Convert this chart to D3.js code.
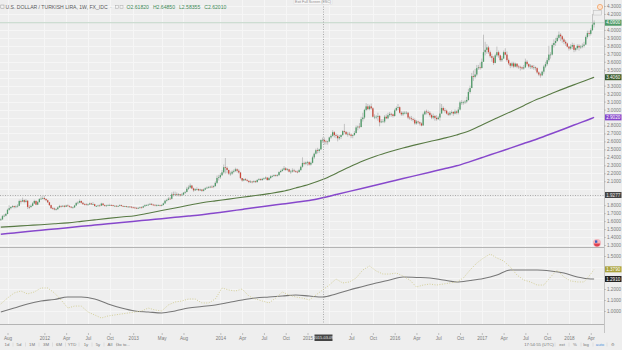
<!DOCTYPE html>
<html>
<head>
<meta charset="utf-8">
<script src="https://cdn.jsdelivr.net/npm/d3@7"></script>
<style>
  html, body { margin: 0; padding: 0; background: #eeeeee; }
  svg { display: block; font-family: "Liberation Sans", Arial, sans-serif; }
</style>
</head>
<body>
<svg id="chart" width="622" height="350"></svg>
<script>
// ---- USD/TRY weekly bars (FX_IDC), first bar = week of 2011-07-04 ----
const firstWeek = "2011-07-04";
const firstOpen = 1.612; // each later bar opens at the prior week's close

const closes = [
  // 2011
  1.622,1.662,1.668,1.690,1.742,1.762,1.778,1.788,1.776,1.784,1.792,1.852,1.846,1.862,1.842,1.856,1.778,1.776,1.792,1.822,1.852,1.806,1.838,1.876,1.882,1.890,
  // 2012
  1.878,1.862,1.836,1.800,1.762,1.758,1.746,1.750,1.772,1.790,1.784,1.792,1.780,1.796,1.790,1.780,1.770,1.772,1.796,1.826,1.832,1.852,1.830,1.812,1.810,1.806,1.810,1.822,1.810,1.812,1.790,1.790,1.796,1.794,1.820,1.800,1.790,1.796,1.800,1.802,1.800,1.790,1.792,1.786,1.790,1.800,1.790,1.786,1.786,1.780,1.782,1.780,1.772,
  // 2013
  1.770,1.766,1.760,1.766,1.772,1.770,1.786,1.800,1.800,1.806,1.816,1.806,1.804,1.796,1.800,1.800,1.794,1.802,1.822,1.856,1.866,1.882,1.880,1.936,1.930,1.936,1.930,1.936,1.924,1.932,1.956,1.966,2.006,2.022,2.046,2.010,1.986,2.000,2.002,1.986,1.996,1.980,1.996,2.012,2.020,2.026,2.032,2.030,2.040,2.080,2.142,2.150,
  // 2014
  2.176,2.212,2.276,2.268,2.242,2.196,2.196,2.220,2.230,2.250,2.232,2.210,2.140,2.110,2.126,2.116,2.106,2.090,2.096,2.090,2.100,2.090,2.116,2.126,2.116,2.130,2.136,2.146,2.116,2.140,2.162,2.166,2.176,2.170,2.176,2.216,2.230,2.246,2.262,2.242,2.250,2.220,2.222,2.236,2.226,2.220,2.216,2.240,2.282,2.330,2.320,2.336,
  // 2015
  2.340,2.310,2.332,2.400,2.446,2.490,2.480,2.500,2.6182,2.6201,2.600,2.594,2.600,2.650,2.670,2.716,2.680,2.670,2.640,2.656,2.680,2.730,2.720,2.690,2.696,2.686,2.670,2.680,2.706,2.776,2.786,2.780,2.880,2.900,2.996,3.040,3.006,3.040,3.016,2.910,2.910,2.910,2.920,2.840,2.850,2.850,2.910,2.890,2.930,2.946,2.940,2.920,
  // 2016
  2.990,3.020,3.030,2.960,2.940,2.960,2.960,2.960,2.900,2.890,2.880,2.870,2.826,2.850,2.840,2.826,2.800,2.940,2.976,2.970,2.960,2.930,2.900,2.920,2.896,2.880,2.900,2.950,3.020,2.990,2.986,2.950,2.936,2.960,2.970,2.950,2.976,2.960,3.000,3.090,3.090,3.090,3.100,3.120,3.220,3.270,3.420,3.410,3.440,3.520,3.530,3.520,
  // 2017
  3.600,3.720,3.750,3.780,3.720,3.670,3.650,3.586,3.680,3.720,3.680,3.620,3.640,3.720,3.690,3.620,3.580,3.550,3.580,3.540,3.576,3.540,3.536,3.530,3.516,3.530,3.600,3.570,3.540,3.550,3.530,3.530,3.520,3.466,3.440,3.430,3.476,3.540,3.570,3.620,3.690,3.690,3.810,3.836,3.860,3.900,3.940,3.920,3.880,3.850,3.830,3.790,
  // 2018
  3.766,3.790,3.810,3.750,3.770,3.800,3.780,3.790,3.800,3.816,3.910,3.960,3.950,3.996,4.066,4.090
];

const highs = [
  1.636,1.676,1.690,1.702,1.755,1.798,1.784,1.800,1.795,1.800,1.812,1.870,1.870,1.895,1.872,1.878,1.862,1.800,1.808,1.838,1.868,1.862,1.852,1.890,1.910,1.912,
  1.920,1.886,1.868,1.842,1.806,1.775,1.770,1.762,1.782,1.804,1.800,1.802,1.800,1.806,1.810,1.798,1.788,1.782,1.804,1.840,1.848,1.872,1.860,1.840,1.824,1.826,1.820,1.832,1.830,1.838,1.818,1.800,1.806,1.808,1.830,1.828,1.808,1.806,1.812,1.818,1.810,1.804,1.800,1.800,1.800,1.810,1.806,1.796,1.794,1.792,1.790,1.790,1.788,
  1.782,1.780,1.774,1.776,1.782,1.784,1.796,1.810,1.812,1.818,1.828,1.826,1.816,1.812,1.812,1.810,1.806,1.812,1.832,1.866,1.880,1.900,1.904,1.960,1.970,1.970,1.960,1.950,1.940,1.950,1.966,1.978,2.030,2.048,2.072,2.054,2.020,2.012,2.024,2.010,2.006,2.000,2.008,2.024,2.034,2.040,2.044,2.050,2.052,2.100,2.172,2.180,
  2.200,2.240,2.310,2.392,2.286,2.246,2.222,2.236,2.248,2.270,2.262,2.250,2.218,2.142,2.136,2.140,2.130,2.110,2.112,2.104,2.112,2.110,2.126,2.140,2.136,2.142,2.148,2.160,2.150,2.154,2.176,2.180,2.186,2.186,2.190,2.226,2.246,2.262,2.290,2.278,2.266,2.256,2.242,2.262,2.256,2.238,2.236,2.256,2.296,2.400,2.346,2.348,
  2.356,2.352,2.346,2.420,2.460,2.510,2.520,2.510,2.626,2.6485,2.650,2.620,2.610,2.660,2.690,2.740,2.730,2.700,2.690,2.680,2.690,2.740,2.820,2.730,2.720,2.720,2.700,2.690,2.730,2.800,2.800,2.830,2.910,2.960,3.010,3.080,3.070,3.060,3.076,3.030,2.940,2.930,2.960,2.930,2.880,2.880,2.930,2.940,2.960,2.970,2.960,2.950,
  3.010,3.040,3.070,3.040,2.980,2.980,2.980,2.980,2.970,2.920,2.920,2.900,2.890,2.870,2.860,2.850,2.840,2.960,2.990,3.000,2.990,2.980,2.950,2.950,2.930,2.930,2.920,3.080,3.070,3.040,3.020,3.000,2.970,2.980,2.990,2.980,3.000,2.990,3.030,3.110,3.120,3.110,3.120,3.160,3.260,3.300,3.460,3.490,3.510,3.560,3.560,3.590,
  3.640,3.940,3.850,3.820,3.800,3.740,3.700,3.670,3.700,3.790,3.740,3.690,3.670,3.740,3.770,3.730,3.640,3.590,3.600,3.600,3.590,3.580,3.560,3.550,3.540,3.560,3.640,3.620,3.580,3.570,3.560,3.560,3.540,3.530,3.480,3.460,3.490,3.560,3.600,3.650,3.800,3.720,3.830,3.880,3.900,3.930,3.980,3.960,3.930,3.900,3.870,3.840,
  3.800,3.820,3.840,3.830,3.780,3.820,3.820,3.810,3.830,3.850,3.930,3.990,3.990,4.020,4.200,4.120
];

const lows = [
  1.603,1.615,1.650,1.660,1.684,1.730,1.748,1.766,1.760,1.762,1.770,1.788,1.820,1.838,1.825,1.832,1.752,1.750,1.768,1.786,1.815,1.798,1.800,1.832,1.866,1.872,
  1.862,1.850,1.828,1.792,1.752,1.745,1.735,1.732,1.742,1.768,1.770,1.776,1.772,1.776,1.782,1.770,1.762,1.758,1.768,1.792,1.812,1.826,1.820,1.806,1.796,1.796,1.790,1.802,1.802,1.800,1.782,1.778,1.782,1.784,1.790,1.792,1.782,1.782,1.790,1.792,1.790,1.784,1.782,1.778,1.778,1.784,1.782,1.778,1.776,1.772,1.770,1.772,1.762,
  1.760,1.756,1.752,1.752,1.758,1.760,1.764,1.780,1.790,1.794,1.800,1.798,1.794,1.786,1.784,1.790,1.786,1.786,1.796,1.816,1.844,1.860,1.866,1.872,1.910,1.920,1.912,1.912,1.910,1.918,1.928,1.940,1.960,1.992,2.010,2.000,1.968,1.978,1.984,1.976,1.978,1.968,1.972,1.990,2.004,2.010,2.014,2.018,2.014,2.030,2.066,2.110,
  2.130,2.166,2.196,2.196,2.200,2.180,2.168,2.180,2.200,2.216,2.210,2.196,2.126,2.096,2.100,2.104,2.094,2.076,2.080,2.074,2.080,2.078,2.082,2.106,2.106,2.104,2.118,2.126,2.106,2.108,2.132,2.150,2.156,2.158,2.158,2.170,2.204,2.222,2.236,2.230,2.226,2.212,2.194,2.210,2.214,2.206,2.200,2.208,2.232,2.270,2.300,2.300,
  2.296,2.296,2.296,2.324,2.380,2.436,2.450,2.456,2.496,2.58355,2.560,2.560,2.560,2.590,2.632,2.660,2.650,2.640,2.600,2.620,2.630,2.670,2.700,2.680,2.660,2.670,2.640,2.640,2.670,2.700,2.740,2.760,2.780,2.850,2.880,2.980,2.990,2.990,3.000,2.900,2.880,2.880,2.860,2.790,2.830,2.840,2.830,2.880,2.880,2.910,2.910,2.900,
  2.910,2.980,2.990,2.950,2.920,2.920,2.940,2.940,2.880,2.870,2.860,2.850,2.810,2.810,2.820,2.800,2.790,2.800,2.930,2.940,2.940,2.910,2.880,2.880,2.860,2.860,2.870,2.860,2.950,2.980,2.960,2.940,2.920,2.920,2.940,2.920,2.940,2.940,2.940,2.990,3.060,3.060,3.070,3.080,3.110,3.200,3.270,3.360,3.390,3.420,3.500,3.500,
  3.520,3.600,3.680,3.700,3.700,3.650,3.600,3.560,3.580,3.660,3.650,3.600,3.600,3.640,3.680,3.600,3.560,3.520,3.530,3.520,3.530,3.520,3.510,3.490,3.500,3.500,3.520,3.550,3.520,3.510,3.510,3.500,3.490,3.450,3.420,3.400,3.420,3.450,3.520,3.550,3.600,3.640,3.680,3.780,3.800,3.850,3.880,3.860,3.840,3.820,3.800,3.780,
  3.740,3.750,3.760,3.720,3.730,3.750,3.740,3.760,3.770,3.780,3.810,3.890,3.920,3.930,3.990,4.030
];

// Moving averages, one value every 8 weeks from the first bar, plus the latest bar
const maEvery = 8;
const sma100 = [1.524,1.534,1.545,1.555,1.566,1.578,1.596,1.615,1.634,1.652,1.668,1.699,1.732,1.765,1.798,1.830,1.854,1.876,1.900,1.921,1.945,1.973,2.016,2.063,2.122,2.198,2.279,2.354,2.417,2.470,2.518,2.560,2.599,2.638,2.681,2.736,2.816,2.894,2.971,3.049,3.128,3.195,3.263,3.327,3.390];
const sma100Latest = 3.406;
const sma200 = [1.436,1.452,1.468,1.485,1.501,1.517,1.534,1.550,1.566,1.583,1.599,1.615,1.631,1.647,1.663,1.680,1.702,1.724,1.747,1.770,1.792,1.814,1.836,1.859,1.893,1.933,1.973,2.013,2.053,2.093,2.134,2.174,2.214,2.254,2.294,2.347,2.403,2.460,2.516,2.573,2.631,2.693,2.757,2.821,2.885];
const sma200Latest = 2.902;

// Lower pane: ratio (dotted, one value every 4 weeks) and its average (every 8 weeks)
const ratioEvery = 4;
const ratio = [1.064,1.118,1.164,1.182,1.155,1.173,1.209,1.209,1.164,1.100,1.027,1.045,1.045,0.991,0.964,0.936,0.955,0.964,0.973,0.982,0.991,1.000,1.027,1.009,1.000,1.055,1.082,1.091,1.109,1.109,1.073,1.073,1.109,1.209,1.191,1.182,1.200,1.136,1.109,1.091,1.073,1.118,1.173,1.145,1.127,1.118,1.100,1.145,1.191,1.236,1.291,1.255,1.264,1.300,1.373,1.409,1.364,1.336,1.336,1.345,1.318,1.282,1.218,1.236,1.245,1.236,1.245,1.255,1.264,1.300,1.373,1.436,1.482,1.518,1.482,1.455,1.400,1.327,1.282,1.264,1.236,1.236,1.309,1.373,1.309,1.273,1.264,1.264,1.336];
const ratioLatest = 1.379;
const ratioAvg = [0.991,1.027,1.064,1.091,1.105,1.127,1.127,1.109,1.064,1.027,1.000,0.991,0.982,1.000,1.027,1.041,1.055,1.077,1.100,1.118,1.127,1.136,1.145,1.136,1.127,1.155,1.191,1.223,1.255,1.282,1.309,1.305,1.300,1.282,1.264,1.277,1.295,1.327,1.373,1.373,1.373,1.364,1.345,1.309,1.291];
const ratioAvgLatest = 1.291;

// Axis ticks
const priceTicks = [1.3,1.4,1.5,1.6,1.7,1.8,1.9,2.0,2.1,2.2,2.3,2.4,2.5,2.6,2.7,2.8,2.9,3.0,3.1,3.2,3.3,3.4,3.5,3.6,3.7,3.8,3.9,4.0,4.1,4.2,4.3];
const ratioTicks = [1.0,1.1,1.2,1.3,1.4,1.5];
const timeTicks = ["2011-08-01","2012-01-02","2012-04-02","2012-07-02","2012-10-01","2013-01-07","2013-05-06","2013-08-05",
  "2014-01-06","2014-04-07","2014-07-07","2014-10-06","2015-01-05","2015-04-06","2015-07-06","2015-10-05",
  "2016-01-04","2016-04-04","2016-07-04","2016-10-03","2017-01-02","2017-04-03","2017-07-03","2017-10-02","2018-01-01","2018-04-02"];

// Crosshair state
const cursorWeek = "2015-03-09";
const cursorPrice = 1.9277;

const rangeButtons = ["1d","5d","1M","3M","6M","YTD","1y","5y","All","Go to..."];

// ---------------------------------------------------------------
const W = 622, H = 350;
const axisLeft = 604;
const mainBottom = 247, lowBottom = 324;
const svg = d3.select("#chart");
const fmt4 = d3.format(".4f"), fmt5 = d3.format(".5f");
const monthFmt = d3.utcFormat("%b");

const t0 = new Date(firstWeek + "T00:00:00Z");
const weekIndex = s => Math.round((new Date(s + "T00:00:00Z") - t0) / (7 * 864e5));

const bars = closes.map((c, i) => ({
  i, date: d3.utcDay.offset(t0, 7 * i),
  o: i ? closes[i - 1] : firstOpen, h: highs[i], l: lows[i], c
}));
const last = bars[bars.length - 1];

const x = d3.scaleLinear().domain([0, bars.length - 1]).range([0.8, 594.1]);
const y = d3.scaleLinear().domain([1.3, 4.3]).range([245, 6]);
const yr = d3.scaleLinear().domain([1.0, 1.5]).range([311, 256]);

svg.append("rect").attr("width", W).attr("height", H).attr("fill", "#eeeeee");

const defs = svg.append("defs");
defs.append("clipPath").attr("id", "clipMain").append("rect").attr("x", 0).attr("y", 0).attr("width", axisLeft).attr("height", mainBottom);
defs.append("clipPath").attr("id", "clipLow").append("rect").attr("x", 0).attr("y", mainBottom).attr("width", axisLeft).attr("height", lowBottom - mainBottom);

// grid
const grid = svg.append("g").attr("stroke", "#f6f6f6").attr("stroke-width", 1);
timeTicks.forEach(t => {
  const xx = Math.round(x(weekIndex(t))) + 0.5;
  grid.append("line").attr("x1", xx).attr("x2", xx).attr("y1", 0).attr("y2", lowBottom);
});
priceTicks.forEach(v => {
  const yy = Math.round(y(v)) + 0.5;
  grid.append("line").attr("x1", 0).attr("x2", axisLeft).attr("y1", yy).attr("y2", yy);
});
ratioTicks.forEach(v => {
  const yy = Math.round(yr(v)) + 0.5;
  grid.append("line").attr("x1", 0).attr("x2", axisLeft).attr("y1", yy).attr("y2", yy);
});

// pane borders
svg.append("line").attr("x1", 0).attr("x2", axisLeft).attr("y1", mainBottom + 0.5).attr("y2", mainBottom + 0.5).attr("stroke", "#b4b4b4");
svg.append("line").attr("x1", 0).attr("x2", axisLeft).attr("y1", lowBottom + 0.5).attr("y2", lowBottom + 0.5).attr("stroke", "#b4b4b4");
svg.append("line").attr("x1", axisLeft + 0.5).attr("x2", axisLeft + 0.5).attr("y1", 0).attr("y2", 333).attr("stroke", "#c4c4c4");

// main pane
const main = svg.append("g").attr("clip-path", "url(#clipMain)");

// last price line
main.append("line").attr("x1", 0).attr("x2", axisLeft).attr("y1", y(last.c)).attr("y2", y(last.c))
  .attr("stroke", "#c2d6c8").attr("stroke-width", 1);

// crosshair
const cx = Math.round(x(weekIndex(cursorWeek))) + 0.5;
svg.append("line").attr("x1", cx).attr("x2", cx).attr("y1", 4).attr("y2", lowBottom)
  .attr("stroke", "#9a9a9a").attr("stroke-width", 0.8).attr("stroke-dasharray", "1,1.5");
main.append("line").attr("x1", 0).attr("x2", axisLeft).attr("y1", Math.round(y(cursorPrice)) + 0.5).attr("y2", Math.round(y(cursorPrice)) + 0.5)
  .attr("stroke", "#9a9a9a").attr("stroke-width", 0.8).attr("stroke-dasharray", "1,1.5");

// moving averages
const maPoints = (arr, latest) => arr.map((v, k) => ({ i: k * maEvery, v })).concat([{ i: bars.length - 1, v: latest }]);
const maLine = d3.line().x(d => x(d.i)).y(d => y(d.v)).curve(d3.curveMonotoneX);
main.append("path").attr("d", maLine(maPoints(sma100, sma100Latest))).attr("fill", "none").attr("stroke", "#587a44").attr("stroke-width", 1.1);
main.append("path").attr("d", maLine(maPoints(sma200, sma200Latest))).attr("fill", "none").attr("stroke", "#8748cc").attr("stroke-width", 1.5);

// candles
const up = "#4f9a68", down = "#c9483a";
const cg = main.append("g");
cg.selectAll("line.wick").data(bars).join("line").attr("class", "wick")
  .attr("x1", d => x(d.i)).attr("x2", d => x(d.i)).attr("y1", d => y(d.h)).attr("y2", d => y(d.l))
  .attr("stroke", "#a3a3a3").attr("stroke-width", 0.6);
cg.selectAll("rect.body").data(bars).join("rect").attr("class", "body")
  .attr("x", d => x(d.i) - 0.65).attr("width", 1.3)
  .attr("y", d => y(Math.max(d.o, d.c)))
  .attr("height", d => Math.max(0.7, Math.abs(y(d.o) - y(d.c))))
  .attr("fill", d => d.c >= d.o ? up : down);

// lower pane
const low = svg.append("g").attr("clip-path", "url(#clipLow)");
const rPts = ratio.map((v, k) => ({ i: k * ratioEvery, v })).concat([{ i: bars.length - 1, v: ratioLatest }]);
const aPts = ratioAvg.map((v, k) => ({ i: k * maEvery, v })).concat([{ i: bars.length - 1, v: ratioAvgLatest }]);
low.append("path").attr("d", d3.line().x(d => x(d.i)).y(d => yr(d.v)).curve(d3.curveMonotoneX)(aPts))
  .attr("fill", "none").attr("stroke", "#777").attr("stroke-width", 1.1);
low.append("path").attr("d", d3.line().x(d => x(d.i)).y(d => yr(d.v))(rPts)).attr("fill", "none")
  .attr("stroke", "#d4cf98").attr("stroke-width", 1).attr("stroke-dasharray", "1,1.5");

// value tags on the price axis (ticks that would sit under a tag are left out)
const tags = [
  [y(last.c), fmt4(last.c), "#4f9a68", "#ffffff"],
  [y(sma100Latest), fmt4(sma100Latest), "#3b5a2a", "#ffffff"],
  [y(sma200Latest), fmt4(sma200Latest), "#8748cc", "#ffffff"],
  [y(cursorPrice), fmt4(cursorPrice), "#444444", "#e8e8e8"],
  [yr(ratioLatest), fmt4(ratioLatest), "#a9a23c", "#ffffff"],
  [yr(ratioAvgLatest), fmt4(ratioAvgLatest), "#222222", "#ffffff"]
];
const clear = yy => tags.every(t => Math.abs(t[0] - yy) > 6.5);

const axStyle = g => {
  g.select(".domain").remove();
  g.selectAll(".tick line").attr("stroke", "#a0a0a0").attr("stroke-width", 0.6);
  g.selectAll(".tick text").attr("fill", "#7a7a7a").attr("font-size", 4.6);
};
svg.append("g").attr("transform", `translate(${axisLeft},0)`)
  .call(d3.axisRight(y).tickValues(priceTicks.filter(v => clear(y(v)))).tickFormat(fmt4).tickSize(1.8).tickPadding(1.2)).call(axStyle);
svg.append("g").attr("transform", `translate(${axisLeft},0)`)
  .call(d3.axisRight(yr).tickValues(ratioTicks.filter(v => clear(yr(v)))).tickFormat(fmt4).tickSize(1.8).tickPadding(1.2)).call(axStyle);

tags.forEach(([yy, text, fill, color]) => {
  const g = svg.append("g");
  g.append("rect").attr("x", axisLeft + 1).attr("y", yy - 3).attr("width", 16.5).attr("height", 6).attr("fill", fill);
  g.append("text").attr("x", axisLeft + 2.2).attr("y", yy + 1.7).attr("font-size", 4.6).attr("fill", color).text(text);
});

// time axis
const tickIdx = timeTicks.map(weekIndex);
const labelFor = i => { const d = bars[i].date; return d.getUTCMonth() === 0 ? String(d.getUTCFullYear()) : monthFmt(d); };
const cursorIdx = weekIndex(cursorWeek);
const ta = svg.append("g").attr("transform", "translate(0,333)")
  .call(d3.axisBottom(x).tickValues(tickIdx.filter(i => Math.abs(x(i) - x(cursorIdx)) > 12)).tickFormat(labelFor).tickSize(2).tickPadding(1.3));
ta.select(".domain").remove();
ta.selectAll(".tick line").attr("stroke", "#a0a0a0").attr("stroke-width", 0.6);
ta.selectAll(".tick text").attr("fill", "#7a7a7a").attr("font-size", 4.6);

// crosshair date tag
svg.append("rect").attr("x", cx - 9).attr("y", 334.5).attr("width", 18).attr("height", 6.5).attr("fill", "#444");
svg.append("text").attr("x", cx).attr("y", 339.4).attr("text-anchor", "middle").attr("font-size", 3.9).attr("fill", "#eee").text(cursorWeek);

// header legend
const hdr = svg.append("g");
hdr.append("rect").attr("x", 0.8).attr("y", 5).attr("width", 3.2).attr("height", 3.6).attr("fill", "none").attr("stroke", "#999").attr("stroke-width", 0.5);
hdr.append("text").attr("x", 5.5).attr("y", 9).attr("font-size", 5.1).attr("fill", "#5a5a5a").text("U.S. DOLLAR / TURKISH LIRA, 1W, FX_IDC");
hdr.append("text").attr("x", 110).attr("y", 9).attr("font-size", 5.1).attr("fill", "#888").text("·");
[115.5, 120].forEach(xx => hdr.append("rect").attr("x", xx).attr("y", 5.3).attr("width", 3).attr("height", 3).attr("fill", "none").attr("stroke", "#aaa").attr("stroke-width", 0.5));
const cb = bars[cursorIdx];
const ohlc = [["O", cb.o], ["H", cb.h], ["L", cb.l], ["C", cb.c]];
const ohlcText = hdr.append("text").attr("x", 126.5).attr("y", 9).attr("font-size", 5.1).attr("fill", cb.c >= cb.o ? "#3f8a58" : "#c9483a");
ohlc.forEach(([k, v], j) => ohlcText.append("tspan").attr("dx", j ? 4 : 0).text(k + fmt5(v)));

// full-screen hint
svg.append("rect").attr("x", 294).attr("y", -1).attr("width", 38).attr("height", 5.5).attr("fill", "#f7f7f7").attr("stroke", "#dcdcdc").attr("stroke-width", 0.5);
svg.append("text").attr("x", 313).attr("y", 3.2).attr("text-anchor", "middle").attr("font-size", 3.6).attr("fill", "#8a8a8a").text("Exit Full Screen (ESC)");

// top-right markers
svg.append("circle").attr("cx", 600).attr("cy", 7).attr("r", 2.6).attr("fill", "#fbe3cf").attr("stroke", "#f0a266").attr("stroke-width", 0.8);
svg.append("rect").attr("x", 593.5).attr("y", 10.5).attr("width", 8).attr("height", 4.5).attr("fill", "none").attr("stroke", "#c0c0c0").attr("stroke-width", 0.6);

// event flag on pane border
const flag = svg.append("g").attr("transform", "translate(597,243)");
flag.append("circle").attr("r", 4).attr("fill", "#f3b7bd");
flag.append("path").attr("d", "M-3,0.6 A3,3 0 0,0 3,0.6 Z").attr("fill", "#e0404f");
flag.append("rect").attr("x", -2).attr("y", -2.6).attr("width", 2.3).attr("height", 2.4).attr("fill", "#3b5fc0");

// bottom toolbar
const tb = svg.append("g").attr("font-size", 4.3).attr("fill", "#777");
const btnX = [7, 19, 32, 46, 59, 72, 86, 98, 110, 123];
rangeButtons.forEach((b, k) => {
  tb.append("text").attr("x", btnX[k]).attr("y", 346).attr("text-anchor", "middle").text(b);
  if (k < rangeButtons.length - 1) tb.append("line").attr("x1", (btnX[k] + btnX[k + 1]) / 2).attr("x2", (btnX[k] + btnX[k + 1]) / 2)
    .attr("y1", 342.5).attr("y2", 346.5).attr("stroke", "#cfcfcf").attr("stroke-width", 0.5);
});
const rt = [["17:54:55 (UTC)", 539, "#777"], ["ext", 562, "#777"], ["%", 575, "#777"], ["log", 586, "#777"], ["auto", 600, "#4a90d9"], ["⚙", 613, "#888"]];
rt.forEach(([t, xx, c]) => tb.append("text").attr("x", xx).attr("y", 346).attr("text-anchor", "middle").attr("fill", c).text(t));
[555, 569, 581, 593, 607].forEach(xx => tb.append("line").attr("x1", xx).attr("x2", xx).attr("y1", 342.5).attr("y2", 346.5).attr("stroke", "#cfcfcf").attr("stroke-width", 0.5));
</script>
</body>
</html>
